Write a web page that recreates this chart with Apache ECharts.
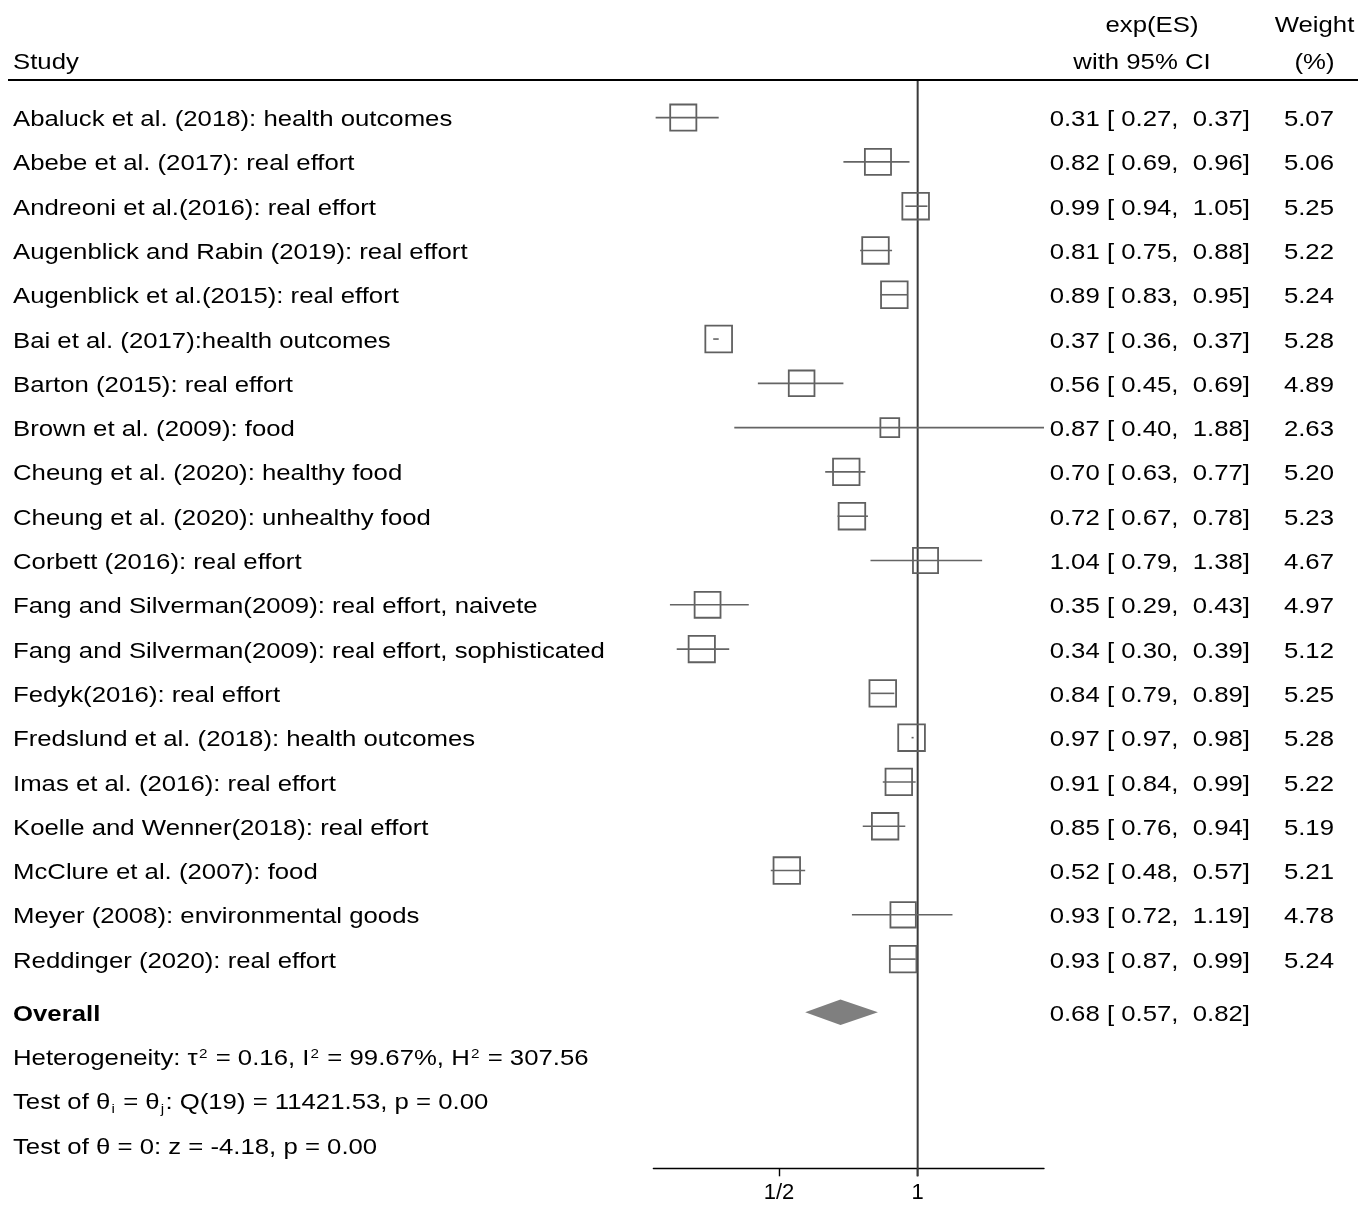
<!DOCTYPE html>
<html>
<head>
<meta charset="utf-8">
<title>Forest plot: present bias studies</title>
<script src="https://cdn.jsdelivr.net/npm/echarts@6/dist/echarts.min.js"></script>
<style>
  html, body { margin: 0; padding: 0; background: #fff; }
  #chart { width: 1358px; height: 1205px; }
</style>
</head>
<body>
<div id="chart"></div>
<script>
// ---- data ----
const studies = [
  'Abaluck et al. (2018): health outcomes',
  'Abebe et al. (2017): real effort',
  'Andreoni et al.(2016): real effort',
  'Augenblick and Rabin (2019): real effort',
  'Augenblick et al.(2015): real effort',
  'Bai et al. (2017):health outcomes',
  'Barton (2015): real effort',
  'Brown et al. (2009): food',
  'Cheung et al. (2020): healthy food',
  'Cheung et al. (2020): unhealthy food',
  'Corbett (2016): real effort',
  'Fang and Silverman(2009): real effort, naivete',
  'Fang and Silverman(2009): real effort, sophisticated',
  'Fedyk(2016): real effort',
  'Fredslund et al. (2018): health outcomes',
  'Imas et al. (2016): real effort',
  'Koelle and Wenner(2018): real effort',
  'McClure et al. (2007): food',
  'Meyer (2008): environmental goods',
  'Reddinger (2020): real effort'
];
const estimate = [0.31, 0.82, 0.99, 0.81, 0.89, 0.37, 0.56, 0.87, 0.70, 0.72, 1.04, 0.35, 0.34, 0.84, 0.97, 0.91, 0.85, 0.52, 0.93, 0.93];
const ciLow    = [0.27, 0.69, 0.94, 0.75, 0.83, 0.36, 0.45, 0.40, 0.63, 0.67, 0.79, 0.29, 0.30, 0.79, 0.97, 0.84, 0.76, 0.48, 0.72, 0.87];
const ciHigh   = [0.37, 0.96, 1.05, 0.88, 0.95, 0.37, 0.69, 1.88, 0.77, 0.78, 1.38, 0.43, 0.39, 0.89, 0.98, 0.99, 0.94, 0.57, 1.19, 0.99];
const weights  = [5.07, 5.06, 5.25, 5.22, 5.24, 5.28, 4.89, 2.63, 5.20, 5.23, 4.67, 4.97, 5.12, 5.25, 5.28, 5.22, 5.19, 5.21, 4.78, 5.24];

const overallEstimate = [0.68];
const overallLow = [0.57];
const overallHigh = [0.82];

const statLines = [
  'Heterogeneity: τ{sup|2} = 0.16, I{sup|2} = 99.67%, H{sup|2} = 307.56',
  'Test of θ{sub|i} = θ{sub|j}: Q(19) = 11421.53, p = 0.00',
  'Test of θ = 0: z = -4.18, p = 0.00'
];

const axisTickValues = [0.5, 1];
const axisTickLabels = ['1/2', '1'];
const axisMin = 0.267;
const axisMax = 1.88;

// ---- layout ----
const W = 1358, H = 1205;
const FONT = '"Liberation Sans", Arial, Helvetica, sans-serif';
const FONT_SIZE = 22;
const TEXT_STRETCH = 1.17;  // the table typeface runs wide
const ROW_H = 44.29;        // px between study rows
const ROW0 = 117.6;         // px of the first study row
const HEAD_Y = 80;          // header rule
const AXIS_Y = 1168.3;      // x axis line
const PLOT_LEFT = 653.4, PLOT_RIGHT = 1044;
const BOX_MAX = 26.7;       // side of the box for the largest weight
const TEXT_DY = 2.5;

const toRow = (y) => (y - ROW0) / ROW_H;
const studyRows = studies.map((_, i) => i);
const overallRow = 20.2;
const statRows = [21.2, 22.2, 23.2];
const headRows = [toRow(23.5), toRow(60)];

const fmt = (v) => v.toFixed(2);
const ciText = (e, l, h) => `${fmt(e)} [ ${fmt(l)},  ${fmt(h)}]`;
const maxWeight = Math.max(...weights);

// text column drawn on the full-page helper grid
function textColumn(name, points, labels, align, extra) {
  return {
    name, type: 'custom', xAxisIndex: 1, yAxisIndex: 1, silent: true, z: 5,
    data: points,
    renderItem(params, api) {
      const p = api.coord([api.value(0), api.value(1)]);
      return {
        type: 'text', x: p[0], y: p[1] + TEXT_DY, scaleX: TEXT_STRETCH,
        style: Object.assign({
          text: labels[params.dataIndex], align, verticalAlign: 'middle',
          fontFamily: FONT, fontSize: FONT_SIZE, fill: '#000'
        }, extra || {})
      };
    }
  };
}
const at = (x, rows) => rows.map((r) => [x, r]);

const chart = echarts.init(document.getElementById('chart'), null, { renderer: 'canvas' });

const option = {
  backgroundColor: '#fff',
  animation: false,
  grid: [
    { left: PLOT_LEFT, right: W - PLOT_RIGHT, top: HEAD_Y, bottom: H - AXIS_Y, containLabel: false },
    { left: 0, right: 0, top: 0, bottom: H - AXIS_Y, containLabel: false }
  ],
  xAxis: [
    {
      type: 'log', logBase: 2, gridIndex: 0, min: axisMin, max: axisMax, position: 'bottom',
      axisLine: { show: true, onZero: false, lineStyle: { color: '#000', width: 1.4 } },
      axisTick: { show: true, customValues: axisTickValues, length: 8, lineStyle: { color: '#000', width: 1.4 } },
      axisLabel: {
        show: true, customValues: axisTickValues, margin: 14,
        fontFamily: FONT, fontSize: FONT_SIZE, color: '#000',
        formatter: (v) => {
          const i = axisTickValues.findIndex((t) => Math.abs(t - v) < 1e-6);
          return i >= 0 ? axisTickLabels[i] : '';
        }
      },
      splitLine: { show: false }
    },
    { type: 'value', gridIndex: 1, min: 0, max: W, show: false }
  ],
  yAxis: [
    { type: 'value', gridIndex: 0, inverse: true, min: toRow(HEAD_Y), max: toRow(AXIS_Y), show: false },
    { type: 'value', gridIndex: 1, inverse: true, min: toRow(0), max: toRow(AXIS_Y), show: false }
  ],
  series: [
    // reference line at exp(ES) = 1
    {
      name: 'null line', type: 'custom', xAxisIndex: 0, yAxisIndex: 0, silent: true, z: 1,
      data: [[1, toRow(HEAD_Y), toRow(AXIS_Y)]],
      renderItem(params, api) {
        const a = api.coord([api.value(0), api.value(1)]);
        const b = api.coord([api.value(0), api.value(2)]);
        return { type: 'line', shape: { x1: a[0], y1: a[1], x2: b[0], y2: b[1] + 8 },
          style: { stroke: '#3a3a3a', lineWidth: 2 } };
      }
    },
    // study boxes with confidence intervals
    {
      name: 'studies', type: 'custom', xAxisIndex: 0, yAxisIndex: 0, silent: true, z: 2,
      data: studies.map((_, i) => [estimate[i], studyRows[i], ciLow[i], ciHigh[i], weights[i]]),
      renderItem(params, api) {
        const row = api.value(1);
        const c = api.coord([api.value(0), row]);
        const l = api.coord([api.value(2), row]);
        const r = api.coord([api.value(3), row]);
        const side = BOX_MAX * Math.sqrt(api.value(4) / maxWeight);
        return {
          type: 'group',
          children: [
            { type: 'rect', shape: { x: c[0] - side / 2, y: c[1] - side / 2, width: side, height: side },
              style: { fill: 'rgba(0,0,0,0)', stroke: '#606060', lineWidth: 1.8 } },
            { type: 'line', shape: { x1: l[0], y1: l[1], x2: r[0], y2: r[1] },
              style: { stroke: '#646464', lineWidth: 1.6 } }
          ]
        };
      }
    },
    // overall diamond
    {
      name: 'overall', type: 'custom', xAxisIndex: 0, yAxisIndex: 0, silent: true, z: 2,
      data: overallEstimate.map((e, i) => [e, overallRow, overallLow[i], overallHigh[i]]),
      renderItem(params, api) {
        const row = api.value(1);
        const c = api.coord([api.value(0), row]);
        const l = api.coord([api.value(2), row]);
        const r = api.coord([api.value(3), row]);
        const h = 12.7;
        return { type: 'polygon',
          shape: { points: [[l[0], l[1]], [c[0], c[1] - h], [r[0], r[1]], [c[0], c[1] + h]] },
          style: { fill: '#7f7f7f' } };
      }
    },
    // header rule
    {
      name: 'header rule', type: 'custom', xAxisIndex: 1, yAxisIndex: 1, silent: true, z: 3,
      data: [[8, W, toRow(HEAD_Y)]],
      renderItem(params, api) {
        const a = api.coord([api.value(0), api.value(2)]);
        const b = api.coord([api.value(1), api.value(2)]);
        return { type: 'line', shape: { x1: a[0], y1: a[1], x2: b[0], y2: b[1] },
          style: { stroke: '#000', lineWidth: 2 } };
      }
    },
    // header texts
    textColumn('head study', at(13, [headRows[1]]), ['Study'], 'left'),
    textColumn('head es', [[1152, headRows[0]], [1142, headRows[1]]], ['exp(ES)', 'with 95% CI'], 'center'),
    textColumn('head weight', at(1314.5, headRows), ['Weight', '(%)'], 'center'),
    // table columns
    textColumn('study names', at(13, studyRows), studies, 'left'),
    textColumn('effects', at(1250, studyRows), studies.map((_, i) => ciText(estimate[i], ciLow[i], ciHigh[i])), 'right'),
    textColumn('weights', at(1334, studyRows), weights.map(fmt), 'right'),
    textColumn('overall label', at(13, [overallRow]), ['Overall'], 'left', { fontWeight: 'bold' }),
    textColumn('overall effect', at(1250, [overallRow]), overallEstimate.map((e, i) => ciText(e, overallLow[i], overallHigh[i])), 'right'),
    textColumn('statistics', at(13, statRows), statLines, 'left', {
      rich: {
        sup: { fontFamily: FONT, fontSize: 13, fill: '#000', verticalAlign: 'top', lineHeight: 13, padding: [2, 1, 0, 1] },
        sub: { fontFamily: FONT, fontSize: 13, fill: '#000', verticalAlign: 'bottom', lineHeight: 13, padding: [0, 1, 0, 1] }
      },
      lineHeight: 26
    })
  ]
};

chart.setOption(option);
</script>
</body>
</html>
